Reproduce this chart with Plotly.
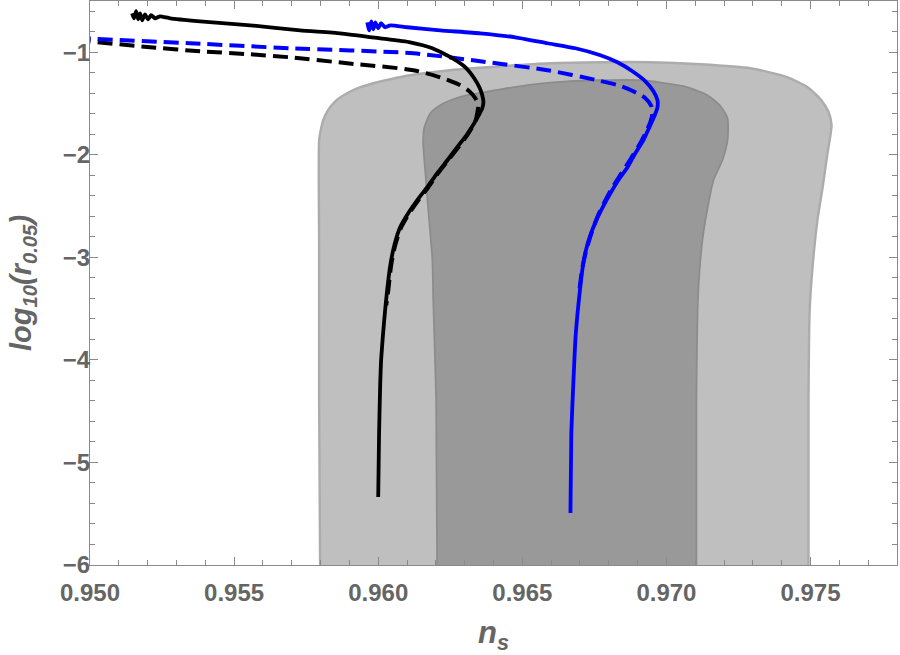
import plotly.graph_objects as go

# ---- data (n_s, log10 r) ----
outer_ns = [0.95799, 0.95795, 0.95795, 0.95795, 0.95802, 0.95809, 0.95826, 0.95851, 0.95892, 0.95938,
            0.95983, 0.96042, 0.96111, 0.96250, 0.96424, 0.96597, 0.96771, 0.96944, 0.97118, 0.97292,
            0.97420, 0.97490, 0.97535, 0.97563, 0.97573, 0.97569, 0.97559, 0.97542, 0.97524, 0.97507,
            0.97497, 0.97493, 0.97493]
outer_r = [-6.3, -4.392, -2.930, -1.858, -1.741, -1.663, -1.565, -1.478, -1.400, -1.341,
           -1.302, -1.263, -1.224, -1.175, -1.137, -1.107, -1.097, -1.097, -1.117, -1.156,
           -1.244, -1.341, -1.458, -1.585, -1.712, -1.809, -1.984, -2.316, -2.637, -3.096,
           -3.515, -4.392, -6.3]

inner_ns = [0.96205, 0.96201, 0.96191, 0.96188, 0.96174, 0.96163, 0.96156, 0.96160, 0.96181, 0.96215,
            0.96260, 0.96309, 0.96424, 0.96538, 0.96656, 0.96771, 0.96910, 0.97059, 0.97142, 0.97188,
            0.97212, 0.97212, 0.97194, 0.97163, 0.97146, 0.97128, 0.97115, 0.97108, 0.97104, 0.97104]
inner_r = [-6.3, -4.392, -3.417, -3.027, -2.540, -2.150, -1.887, -1.731, -1.595, -1.517,
           -1.458, -1.419, -1.361, -1.312, -1.283, -1.273, -1.273, -1.331, -1.419, -1.526,
           -1.643, -1.858, -2.053, -2.248, -2.472, -2.764, -3.125, -3.515, -4.392, -6.3]

black_solid_ns = [0.95146, 0.95153, 0.95160, 0.95167, 0.95174, 0.95181, 0.95191, 0.95201, 0.95212, 0.95226,
                  0.95243, 0.95278, 0.95382, 0.95556, 0.95729, 0.95868, 0.96007, 0.96111, 0.96188, 0.96257,
                  0.96306, 0.96333, 0.96351, 0.96361, 0.96365, 0.96361, 0.96351, 0.96333, 0.96306, 0.96274,
                  0.96240, 0.96205, 0.96170, 0.96135, 0.96104, 0.96076, 0.96056, 0.96042, 0.96031, 0.96024,
                  0.96017, 0.96010, 0.96007, 0.96003, 0.96000]
black_solid_r = [-0.620, -0.669, -0.600, -0.678, -0.620, -0.688, -0.630, -0.678, -0.639, -0.669,
                 -0.649, -0.669, -0.698, -0.737, -0.786, -0.815, -0.864, -0.903, -0.961, -1.058,
                 -1.156, -1.253, -1.341, -1.419, -1.487, -1.546, -1.604, -1.692, -1.809, -1.926,
                 -2.053, -2.179, -2.316, -2.443, -2.569, -2.706, -2.881, -3.076, -3.320, -3.515,
                 -3.739, -4.002, -4.226, -4.713, -5.337]

black_dash_ns = [0.94950, 0.95208, 0.95382, 0.95556, 0.95694, 0.95892, 0.96122, 0.96215, 0.96278, 0.96316,
                 0.96337, 0.96347, 0.96344, 0.96337, 0.96309, 0.96278, 0.96243, 0.96208, 0.96174, 0.96139,
                 0.96108, 0.96080, 0.96059, 0.96045, 0.96035, 0.96028]
black_dash_r = [-0.880, -0.951, -0.990, -1.020, -1.049, -1.107, -1.175, -1.244, -1.312, -1.380,
                -1.448, -1.517, -1.585, -1.673, -1.809, -1.926, -2.053, -2.179, -2.316, -2.443,
                -2.569, -2.706, -2.881, -3.076, -3.320, -3.466]

blue_solid_ns = [0.95962, 0.95969, 0.95976, 0.95983, 0.95990, 0.96000, 0.96010, 0.96024, 0.96042, 0.96101,
                 0.96215, 0.96354, 0.96476, 0.96587, 0.96684, 0.96771, 0.96830, 0.96882, 0.96927, 0.96955,
                 0.96969, 0.96969, 0.96962, 0.96941, 0.96920, 0.96892, 0.96865, 0.96833, 0.96806, 0.96781,
                 0.96757, 0.96736, 0.96719, 0.96708, 0.96698, 0.96691, 0.96684, 0.96677, 0.96670, 0.96667]
blue_solid_r = [-0.708, -0.786, -0.698, -0.776, -0.708, -0.766, -0.717, -0.756, -0.737, -0.756,
                -0.786, -0.815, -0.854, -0.912, -0.961, -1.029, -1.097, -1.185, -1.283, -1.380,
                -1.468, -1.536, -1.595, -1.731, -1.858, -1.984, -2.121, -2.248, -2.374, -2.501,
                -2.637, -2.784, -2.949, -3.125, -3.368, -3.563, -3.807, -4.226, -4.713, -5.493]

blue_dash_ns = [0.94950, 0.95347, 0.95694, 0.96122, 0.96354, 0.96587, 0.96760, 0.96833, 0.96885, 0.96927,
                0.96948, 0.96951, 0.96944, 0.96927, 0.96903, 0.96875, 0.96844, 0.96813, 0.96785, 0.96760,
                0.96740, 0.96722, 0.96708, 0.96698]
blue_dash_r = [-0.860, -0.912, -0.961, -1.010, -1.088, -1.175, -1.273, -1.322, -1.380, -1.448,
               -1.526, -1.604, -1.682, -1.790, -1.916, -2.043, -2.179, -2.316, -2.462, -2.608,
               -2.764, -2.930, -3.105, -3.320]

x_ticks = [0.950, 0.955, 0.960, 0.965, 0.970, 0.975]
y_ticks = [-6, -5, -4, -3, -2, -1]

AX = "#8a8a8a"
TXT = "#656565"

fig = go.Figure()
fig.add_trace(go.Scatter(x=outer_ns, y=outer_r, mode="lines", fill="toself",
                         fillcolor="rgb(191,191,191)",
                         line=dict(color="rgb(172,172,172)", width=2.4, shape="spline", smoothing=0.6),
                         hoverinfo="skip", showlegend=False))
fig.add_trace(go.Scatter(x=inner_ns, y=inner_r, mode="lines", fill="toself",
                         fillcolor="rgb(153,153,153)",
                         line=dict(color="rgb(140,140,140)", width=1.8, shape="spline", smoothing=0.6),
                         hoverinfo="skip", showlegend=False))
fig.add_trace(go.Scatter(x=black_dash_ns, y=black_dash_r, mode="lines",
                         line=dict(color="black", width=4, dash="15px,7px", shape="spline", smoothing=0.7),
                         showlegend=False))
fig.add_trace(go.Scatter(x=blue_dash_ns, y=blue_dash_r, mode="lines",
                         line=dict(color="rgb(0,0,255)", width=4, dash="15px,7px", shape="spline", smoothing=0.7),
                         showlegend=False))
fig.add_trace(go.Scatter(x=black_solid_ns, y=black_solid_r, mode="lines",
                         line=dict(color="black", width=3.8, shape="spline", smoothing=0.5),
                         showlegend=False))
fig.add_trace(go.Scatter(x=blue_solid_ns, y=blue_solid_r, mode="lines",
                         line=dict(color="rgb(0,0,255)", width=3.8, shape="spline", smoothing=0.5),
                         showlegend=False))

tickfont = dict(family="Liberation Sans", size=24, color=TXT, weight="bold")
common = dict(showgrid=False, zeroline=False, showline=True, linecolor=AX, linewidth=1.3,
              mirror="allticks", ticks="inside", ticklen=8, tickwidth=1.2, tickcolor=AX,
              tickfont=tickfont)

fig.update_layout(
    width=900, height=655,
    margin=dict(l=90, r=3, t=1, b=90),
    paper_bgcolor="white", plot_bgcolor="white",
    xaxis=dict(range=[0.950, 0.978], tickvals=x_ticks, tickformat=".3f", ticklabelstandoff=6,
               minor=dict(dtick=0.001, tick0=0.95, ticklen=4.5, tickcolor=AX, tickwidth=1.1, ticks="inside"),
               title=dict(text="<i>n</i><sub><i>s</i></sub>", standoff=16,
                          font=dict(family="Liberation Sans", size=31, color=TXT, weight="bold")),
               **common),
    yaxis=dict(range=[-6, -0.5], tickvals=y_ticks, ticklabelstandoff=-6,
               minor=dict(dtick=0.2, tick0=-6, ticklen=4.5, tickcolor=AX, tickwidth=1.1, ticks="inside"),
               title=dict(text="<i>log</i><sub><i>10</i></sub><i>(r</i><sub><i>0.05</i></sub><i>)</i>", standoff=22,
                          font=dict(family="Liberation Sans", size=29, color=TXT, weight="bold")),
               **common),
)

fig.write_html("out.html")
